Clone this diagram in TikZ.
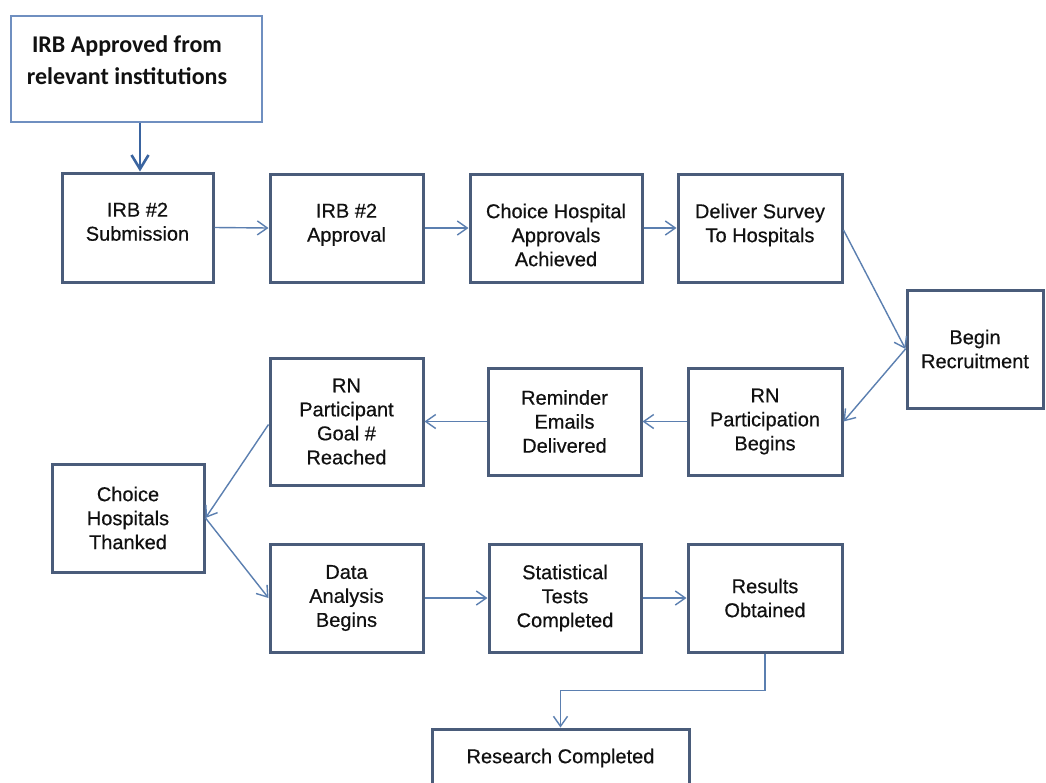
\documentclass[tikz,border=0pt]{standalone}
\usepackage{fontspec}
\setmainfont{Liberation Sans}
\newfontfamily\boxfont{Liberation Sans}[FakeBold=0.5]
\newfontfamily\calibri{Carlito}
\usetikzlibrary{arrows.meta,calc}
\definecolor{boxline}{HTML}{4A5C7A}
\definecolor{connline}{HTML}{5B7FB0}
\definecolor{leadline}{HTML}{3A64A0}
\definecolor{noteline}{HTML}{6F8FC0}
\definecolor{inktext}{HTML}{111111}
\tikzset{
  stepbox/.style={draw=boxline, line width=3pt, fill=white, rectangle,
    inner sep=0pt, minimum width=#1, align=center, text=inktext,
    font=\boxfont\fontsize{20}{24}\selectfont},
  stepbox/.default=153pt,
  toptext/.style={anchor=north, yshift=-31pt, align=center, text=inktext,
    font=\boxfont\fontsize{20}{24}\selectfont, inner sep=0pt},
  notebox/.style={draw=noteline, line width=1.2pt, fill=white, rectangle,
    inner sep=0pt, minimum width=251pt, minimum height=106pt},
  conn/.style={draw=connline, line width=1.4pt,
    -{Straight Barb[length=10pt,width=14pt,line width=1.4pt]}},
  lead/.style={draw=leadline, line width=2.6pt,
    -{Straight Barb[length=14pt,width=17pt,line width=2.6pt]}},
}
\begin{document}
\begin{tikzpicture}[x=1pt,y=-1pt]
\useasboundingbox (0,0) rectangle (1046,782);
\clip (0,0) rectangle (1046,782);
\fill[white] (0,0) rectangle (1046,782);

% starting note
\node[notebox, label={[name=Atxt, anchor=north, yshift=-20pt, xshift=-9.5pt,
  align=center, inner sep=0pt, text=inktext,
  font=\calibri\bfseries\fontsize{24}{32}\selectfont]north:IRB Approved from\\relevant institutions}]
  (A) at (136.5,69) {};

% first row: text set near the top of each box
\node[stepbox=151pt, minimum height=109pt,
  label={[name=Btxt, toptext]north:IRB \#2\\Submission}] (B) at (137.5,227.5) {};
\node[stepbox=153pt, minimum height=108pt,
  label={[name=Ctxt, toptext]north:IRB \#2\\Approval}] (C) at (346.5,228) {};
\node[stepbox=172pt, minimum height=108pt,
  label={[name=Dtxt, toptext]north:Choice Hospital\\Approvals\\Achieved}] (D) at (556,228) {};
\node[stepbox=164pt, minimum height=108pt,
  label={[name=Etxt, toptext]north:Deliver Survey\\To Hospitals}] (E) at (760,228) {};

% recruitment
\node[stepbox=136pt, minimum height=118pt] (F) at (975,349) {Begin\\Recruitment};

% second row
\node[stepbox=154pt, minimum height=107pt] (G) at (765,421.5) {RN\\Participation\\Begins};
\node[stepbox=153pt, minimum height=107pt] (H) at (564.5,421.5) {Reminder\\Emails\\Delivered};
\node[stepbox=153pt, minimum height=127pt] (I) at (346.5,421.5) {RN\\Participant\\Goal \#\\Reached};

% thanks
\node[stepbox=152pt, minimum height=108pt] (J) at (128,518) {Choice\\Hospitals\\Thanked};

% third row
\node[stepbox=153pt, minimum height=108pt] (K) at (346.5,598) {Data\\Analysis\\Begins};
\node[stepbox=152pt, minimum height=108pt] (L) at (565,598) {Statistical\\Tests\\Completed};
\node[stepbox=154pt, minimum height=108pt] (M) at (765,598) {Results\\Obtained};

% final box, running past the lower edge
\node[stepbox=257pt, minimum height=80pt,
  label={[name=Ntxt, anchor=north, yshift=-21pt, inner sep=0pt, text=inktext,
    font=\boxfont\fontsize{20}{24}\selectfont]north:Research Completed}] (N) at (560.5,769) {};

% connectors
\draw[lead] ([xshift=2.5pt]B.north |- A.south) -- ([xshift=2.5pt]B.north);
\draw[conn] (B.east) -- (C.west);
\draw[conn] (C.east) -- (D.west);
\draw[conn] (D.east) -- (E.west);
\draw[conn] ([yshift=-2pt]E.east) -- (F.west);
\draw[conn] (F.west) -- (G.east);
\draw[conn] (G.west) -- (H.east);
\draw[conn] (H.west) -- (I.east);
\draw[conn] ([yshift=-3pt]I.west) -- (J.east);
\draw[conn] (J.east) -- (K.west);
\draw[conn] (K.east) -- (L.west);
\draw[conn] (L.east) -- (M.west);
\draw[conn] (M.south) |- ($(M.south)!0.5!(N.north)$) -| (N.north);
\end{tikzpicture}
\end{document}
